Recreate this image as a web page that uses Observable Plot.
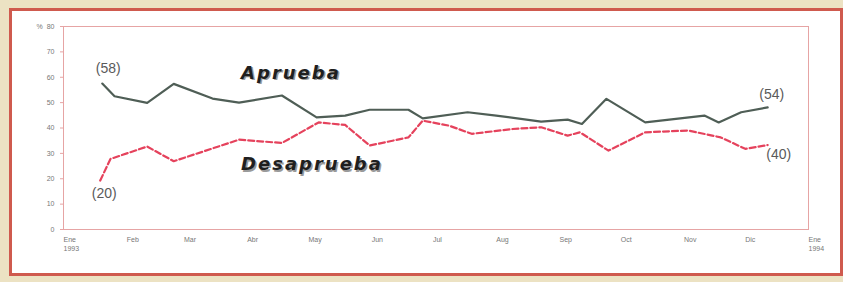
<!DOCTYPE html>
<html><head><meta charset="utf-8">
<script src="https://cdn.jsdelivr.net/npm/d3@7"></script>
<script src="https://cdn.jsdelivr.net/npm/@observablehq/plot@0.6"></script>
<style>
html,body{margin:0;padding:0}
body{background:#ece2c3;width:843px;height:282px;overflow:hidden;position:relative;font-family:"Liberation Sans",Arial,sans-serif}
#box{position:absolute;left:9px;top:8px;width:834px;height:268px;border:3px solid #cf5a4e;background:#fff;box-sizing:border-box}
#chart{position:absolute;left:0;top:0}
</style></head><body><div id="box"></div><div id="chart"></div>
<script>
// Aprueba (solid)
const apruebaDates = ["1993-01-20","1993-01-26","1993-02-11","1993-02-24","1993-03-15","1993-03-28","1993-04-18","1993-05-05","1993-05-19","1993-05-31","1993-06-19","1993-06-26","1993-07-18","1993-08-01","1993-08-23","1993-09-05","1993-09-12","1993-09-24","1993-10-13","1993-11-11","1993-11-18","1993-11-29","1993-12-12"];
const apruebaValues = [57.5,52.5,49.9,57.4,51.6,50.0,52.8,44.2,44.9,47.2,47.2,43.8,46.2,44.9,42.5,43.3,41.6,51.5,42.2,44.9,42.2,46.2,48.1];
// Desaprueba (dashed)
const desapruebaDates = ["1993-01-19","1993-01-24","1993-02-11","1993-02-24","1993-03-28","1993-04-18","1993-05-06","1993-05-19","1993-05-31","1993-06-19","1993-06-26","1993-07-09","1993-07-20","1993-08-09","1993-08-23","1993-09-05","1993-09-11","1993-09-25","1993-10-13","1993-11-03","1993-11-19","1993-12-01","1993-12-12"];
const desapruebaValues = [19.3,27.8,32.7,26.9,35.4,34.1,42.2,41.2,33.1,36.3,42.9,40.9,37.7,39.6,40.3,37.0,38.3,31.1,38.3,39.0,36.3,31.8,33.3];
// Axis ticks and labels
const monthStarts = ["1993-01-01","1993-02-01","1993-03-01","1993-04-01","1993-05-01","1993-06-01","1993-07-01","1993-08-01","1993-09-01","1993-10-01","1993-11-01","1993-12-01","1994-01-01"];
const monthLabels = ["Ene\n1993","Feb","Mar","Abr","May","Jun","Jul","Aug","Sep","Oct","Nov","Dic","Ene\n1994"];
const yTicks = [0,10,20,30,40,50,60,70,80];
// Annotations
const endLabels = {apruebaStart:"(58)", apruebaEnd:"(54)", desapruebaStart:"(20)", desapruebaEnd:"(40)"};
const seriesNames = ["Aprueba","Desaprueba"];
const seriesNameDates = ["1993-03-29","1993-03-29"];
const seriesNameValues = [59.5,23.3];

const parse = d3.utcParse("%Y-%m-%d");
const aprueba = apruebaDates.map((d,i)=>({date:parse(d), value:apruebaValues[i]}));
const desaprueba = desapruebaDates.map((d,i)=>({date:parse(d), value:desapruebaValues[i]}));
const ticks = monthStarts.map(parse);
const labelMap = new Map(ticks.map((t,i)=>[+t, monthLabels[i]]));
const names = seriesNames.map((n,i)=>({name:n, date:parse(seriesNameDates[i]), value:seriesNameValues[i]}));
const aFirst = aprueba[0], aLast = aprueba[aprueba.length-1];
const dFirst = desaprueba[0], dLast = desaprueba[desaprueba.length-1];
const annot = {fontSize: 14, fill: "#5a5a5a", fontFamily: "Liberation Sans, Arial, sans-serif"};
const nameStyle = {x: "date", y: "value", text: "name", textAnchor: "start", lineAnchor: "bottom", fontSize: 18, fontWeight: "bold", fontStyle: "italic", fontFamily: "DejaVu Sans, sans-serif"};

const chart = Plot.plot({
  width: 843, height: 282,
  marginLeft: 63, marginRight: 35, marginTop: 26, marginBottom: 53,
  style: {background: "transparent", fontFamily: "Liberation Sans, Arial, sans-serif"},
  x: {type: "utc", domain: [parse("1993-01-01"), parse("1994-01-01")]},
  y: {domain: [0, 80]},
  marks: [
    Plot.frame({stroke: "#e6a4a4", strokeWidth: 1}),
    Plot.axisY({ticks: yTicks, tickFormat: d => d === 80 ? "%  80" : String(d), fontSize: 7, fill: "#777", stroke: "#e6a4a4", tickSize: 3, tickPadding: 6, label: null}),
    Plot.axisX({ticks: ticks, tickFormat: d => labelMap.get(+d), textAnchor: "start", fontSize: 7, fill: "#777", tickSize: 0, tickPadding: 7, lineHeight: 1.2, label: null}),
    Plot.line(desaprueba, {x: "date", y: "value", stroke: "#e5425c", strokeWidth: 2.2, strokeDasharray: "6,3"}),
    Plot.line(aprueba, {x: "date", y: "value", stroke: "#4f5e56", strokeWidth: 2.2}),
    Plot.text([aFirst], {x: "date", y: "value", text: () => endLabels.apruebaStart, dx: 6, dy: -15, ...annot}),
    Plot.text([aLast], {x: "date", y: "value", text: () => endLabels.apruebaEnd, dx: 4, dy: -13, ...annot}),
    Plot.text([dFirst], {x: "date", y: "value", text: () => endLabels.desapruebaStart, dx: 4, dy: 13, ...annot}),
    Plot.text([dLast], {x: "date", y: "value", text: () => endLabels.desapruebaEnd, dx: 11, dy: 10, ...annot}),
    Plot.text(names, {...nameStyle, dx: 1.5, dy: 1.5, fill: "#9a9a9a"}),
    Plot.text(names, {...nameStyle, fill: "#1f1f1f"})
  ]
});
d3.select(chart).selectAll("text").filter(function(){ return seriesNames.includes(this.textContent); }).attr("letter-spacing", "2");
document.getElementById("chart").appendChild(chart);
</script>
</body></html>
